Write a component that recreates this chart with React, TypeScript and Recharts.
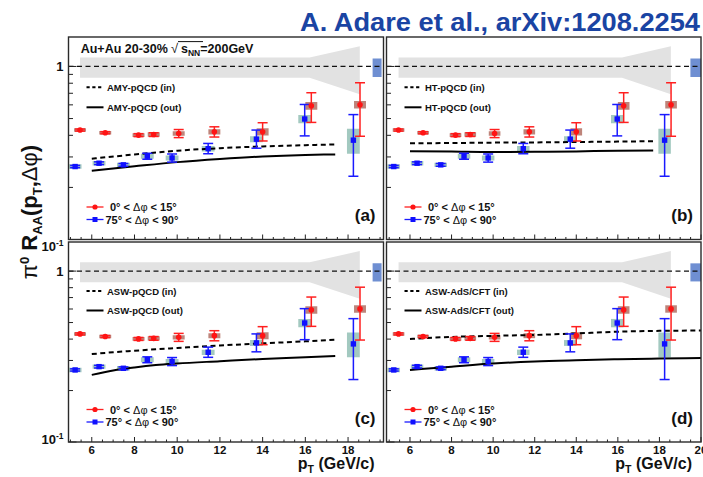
import React from "react";
import {
  Area,
  ComposedChart,
  ErrorBar,
  Line,
  ReferenceArea,
  ReferenceLine,
  Scatter,
  XAxis,
  YAxis,
} from "recharts";

const W = 703;
const H = 477;
const FONT = '"Liberation Sans", Arial, Helvetica, sans-serif';

// 0° < Δφ < 15° (red)
const redPt = [5.45, 6.63, 8.19, 8.9, 10.07, 11.74, 14.0, 16.28, 18.56];
const redRaa = [0.429, 0.414, 0.401, 0.404, 0.41, 0.419, 0.419, 0.593, 0.601];
const redErrLo = [0.006, 0.006, 0.008, 0.01, 0.022, 0.028, 0.048, 0.118, 0.206];
const redErrHi = [0.006, 0.006, 0.008, 0.01, 0.022, 0.029, 0.054, 0.112, 0.204];
const redSys = [0.01, 0.01, 0.01, 0.012, 0.012, 0.014, 0.02, 0.03, 0.03];

// 75° < Δφ < 90° (blue)
const bluePt = [5.22, 6.34, 7.48, 8.6, 9.76, 11.45, 13.71, 15.97, 18.25];
const blueRaa = [0.264, 0.276, 0.27, 0.303, 0.296, 0.335, 0.38, 0.497, 0.375];
const blueErrLo = [0.004, 0.005, 0.005, 0.012, 0.016, 0.022, 0.043, 0.1, 0.143];
const blueErrHi = [0.004, 0.005, 0.005, 0.012, 0.016, 0.024, 0.049, 0.106, 0.152];
const blueSys = [0.008, 0.008, 0.008, 0.01, 0.01, 0.012, 0.015, 0.028, 0.062];

// grey uncertainty band around unity
const bandPt = [5.45, 16.2, 18.55];
const bandLo = [0.86, 0.86, 0.69];
const bandHi = [1.125, 1.125, 1.31];

// model curves
const amyPt = [6, 8, 10, 12, 14, 16, 17.4];
const amyIn = [0.293, 0.31, 0.326, 0.337, 0.345, 0.351, 0.354];
const amyOut = [0.25, 0.265, 0.28, 0.292, 0.302, 0.308, 0.31];
const htPt = [6, 8, 10, 12, 14, 16, 17.7];
const htIn = [0.36, 0.361, 0.363, 0.364, 0.366, 0.368, 0.37];
const htOut = [0.324, 0.322, 0.32, 0.321, 0.323, 0.326, 0.327];
const aswPt = [6, 7, 8, 9, 10, 12, 14, 16, 17.4];
const aswIn = [0.327, 0.335, 0.342, 0.349, 0.355, 0.367, 0.378, 0.388, 0.397];
const aswOut = [0.247, 0.262, 0.273, 0.282, 0.288, 0.297, 0.306, 0.313, 0.319];
const adsPt = [6, 8, 10, 12, 14, 16, 18, 20];
const adsIn = [0.401, 0.412, 0.418, 0.423, 0.432, 0.442, 0.447, 0.449];
const adsOut = [0.264, 0.276, 0.288, 0.296, 0.301, 0.305, 0.308, 0.31];

const xMajor = [6, 8, 10, 12, 14, 16, 18, 20];
const xTicksLeft = [5, 5.5, 6, 6.5, 7, 7.5, 8, 8.5, 9, 9.5, 10, 10.5, 11, 11.5, 12, 12.5, 13, 13.5, 14, 14.5, 15, 15.5, 16, 16.5, 17, 17.5, 18, 18.5, 19, 19.5];
const xTicksRight = [...xTicksLeft, 20];
const yTicks = [0.1, 0.2, 0.3, 0.4, 0.5, 0.6, 0.7, 0.8, 0.9, 1];
const Y_DOMAIN = [0.1, 1.48];

const redPts = redPt.map((x, i) => ({ x, y: redRaa[i], err: [redErrLo[i], redErrHi[i]], sys: redSys[i] }));
const bluePts = bluePt.map((x, i) => ({ x, y: blueRaa[i], err: [blueErrLo[i], blueErrHi[i]], sys: blueSys[i] }));
const band = bandPt.map((x, i) => ({ x, range: [bandLo[i], bandHi[i]] }));
const curve = (pt: number[], v: number[]) => pt.map((x, i) => ({ x, y: v[i] }));

const panels = [
  { key: "a", left: 68.5, top: 37, right: 383.5, bottom: 239.5, xDomain: [4.91, 19.66], xTicks: xTicksLeft, xLabels: false, yLabels: true, tenDy: 11.5, model: "AMY-pQCD", inC: curve(amyPt, amyIn), outC: curve(amyPt, amyOut), tag: "(a)", leg: [50.3, 70.3], norm: [19.15, 19.57] },
  { key: "b", left: 386.5, top: 37, right: 701, bottom: 239.5, xDomain: [4.87, 20], xTicks: xTicksRight, xLabels: false, yLabels: false, tenDy: 0, model: "HT-pQCD", inC: curve(htPt, htIn), outC: curve(htPt, htOut), tag: "(b)", leg: [50.3, 70.3], norm: [19.49, 20] },
  { key: "c", left: 68.5, top: 242, right: 383.5, bottom: 442, xDomain: [4.91, 19.66], xTicks: xTicksLeft, xLabels: true, yLabels: true, tenDy: 1.5, model: "ASW-pQCD", inC: curve(aswPt, aswIn), outC: curve(aswPt, aswOut), tag: "(c)", leg: [49, 68.5], norm: [19.15, 19.57] },
  { key: "d", left: 386.5, top: 242, right: 701, bottom: 442, xDomain: [4.87, 20], xTicks: xTicksRight, xLabels: true, yLabels: false, tenDy: 0, model: "ASW-AdS/CFT", inC: curve(adsPt, adsIn), outC: curve(adsPt, adsOut), tag: "(d)", leg: [49, 68.5], norm: [19.49, 20] },
];

function XTick({ x, y, payload, showLabels }: any) {
  const v = payload.value;
  const major = xMajor.includes(v);
  return (
    <g>
      <line x1={x} x2={x} y1={y} y2={y - (major ? 5 : 2.5)} stroke="#222" strokeWidth={1} />
      {showLabels && major && (
        <text x={x} y={y + 12} textAnchor="middle" fontFamily={FONT} fontWeight="bold" fontSize={11.5} fill="#111">
          {v}
        </text>
      )}
    </g>
  );
}

function YTick({ x, y, payload, showLabels, tenDy }: any) {
  const v = payload.value;
  const major = v === 1 || v === 0.1;
  return (
    <g>
      <line x1={x} x2={x + (major ? 8 : 4.5)} y1={y} y2={y} stroke="#222" strokeWidth={1} />
      {showLabels && v === 1 && (
        <text x={x - 5} y={y + 4.5} textAnchor="end" fontFamily={FONT} fontWeight="bold" fontSize={13} fill="#111">
          1
        </text>
      )}
      {showLabels && v === 0.1 && (
        <text x={x - 5} y={y + tenDy} textAnchor="end" fontFamily={FONT} fontWeight="bold" fontSize={13} fill="#111">
          <tspan>10</tspan>
          <tspan dy={-5} fontSize={8.5}>-1</tspan>
        </text>
      )}
    </g>
  );
}

const redDot = (p: any) => <circle cx={p.cx} cy={p.cy} r={2.8} fill="#ff1414" />;
const blueSq = (p: any) => <rect x={p.cx - 2.7} y={p.cy - 2.7} width={5.4} height={5.4} fill="#1010ff" />;

function Panel({ cfg }: { cfg: (typeof panels)[number] }) {
  // axes get 1px of room (a 0-sized axis is not drawn at all)
  return (
    <div style={{ position: "absolute", left: 0, top: 0 }}>
      <ComposedChart
        width={W}
        height={H}
        margin={{ left: cfg.left - 1, top: cfg.top, right: W - cfg.right, bottom: H - cfg.bottom - 1 }}
      >
        <XAxis
          type="number"
          dataKey="x"
          domain={cfg.xDomain}
          allowDataOverflow
          ticks={cfg.xTicks}
          interval={0}
          height={1}
          axisLine={false}
          tickLine={false}
          tickSize={0}
          tickMargin={0}
          tick={(p: any) => <XTick {...p} showLabels={cfg.xLabels} />}
        />
        <YAxis
          type="number"
          scale="log"
          domain={Y_DOMAIN}
          allowDataOverflow
          ticks={yTicks}
          interval={0}
          width={1}
          axisLine={false}
          tickLine={false}
          tickSize={0}
          tickMargin={0}
          tick={(p: any) => <YTick {...p} showLabels={cfg.yLabels} tenDy={cfg.tenDy} />}
        />
        <Area data={band} dataKey="range" type="linear" fill="#e2e2e2" fillOpacity={1} stroke="none" isAnimationActive={false} />
        <ReferenceLine y={1} stroke="#111" strokeWidth={1.3} strokeDasharray="5 3.5" />
        <ReferenceArea x1={cfg.norm[0]} x2={cfg.norm[1]} y1={0.87} y2={1.11} fill="#6f8fd2" fillOpacity={1} stroke="none" ifOverflow="hidden" />
        {bluePts.map((d, i) => (
          <ReferenceArea key={"bs" + i} x1={d.x - 0.3} x2={d.x + 0.3} y1={d.y - d.sys} y2={d.y + d.sys} fill="#93c0b5" fillOpacity={0.85} stroke="none" ifOverflow="hidden" />
        ))}
        {redPts.map((d, i) => (
          <ReferenceArea key={"rs" + i} x1={d.x - 0.28} x2={d.x + 0.28} y1={d.y - d.sys} y2={d.y + d.sys} fill="#b36f63" fillOpacity={0.85} stroke="none" ifOverflow="hidden" />
        ))}
        <Line data={cfg.inC} dataKey="y" type="monotone" stroke="#000" strokeWidth={2} strokeDasharray="5 3.5" dot={false} isAnimationActive={false} />
        <Line data={cfg.outC} dataKey="y" type="monotone" stroke="#000" strokeWidth={2} dot={false} isAnimationActive={false} />
        <Scatter data={bluePts} dataKey="y" shape={blueSq} isAnimationActive={false}>
          <ErrorBar dataKey="err" direction="y" width={5} stroke="#1a1aff" strokeWidth={1.5} />
        </Scatter>
        <Scatter data={redPts} dataKey="y" shape={redDot} isAnimationActive={false}>
          <ErrorBar dataKey="err" direction="y" width={5} stroke="#ff2020" strokeWidth={1.5} />
        </Scatter>
      </ComposedChart>
    </div>
  );
}

function PanelDecor({ cfg }: { cfg: (typeof panels)[number] }) {
  const L = cfg.left;
  const T = cfg.top;
  const R = cfg.right;
  const B = cfg.bottom;
  const txt = { fontFamily: FONT, fontWeight: "bold" as const, fill: "#111" };
  return (
    <g>
      <rect x={L} y={T} width={R - L} height={B - T} fill="none" stroke="#2a2a2a" strokeWidth={1.4} />
      {/* model legend */}
      <line x1={L + 18} x2={L + 35} y1={T + cfg.leg[0]} y2={T + cfg.leg[0]} stroke="#000" strokeWidth={2} strokeDasharray="3.2 2.6" />
      <text x={L + 38.5} y={T + cfg.leg[0] + 3.5} fontSize={9.5} {...txt}>
        {cfg.model} (in)
      </text>
      <line x1={L + 18} x2={L + 35} y1={T + cfg.leg[1]} y2={T + cfg.leg[1]} stroke="#000" strokeWidth={2} />
      <text x={L + 38.5} y={T + cfg.leg[1] + 3.5} fontSize={9.5} {...txt}>
        {cfg.model} (out)
      </text>
      {/* data legend */}
      <line x1={L + 18} x2={L + 35} y1={B - 32.5} y2={B - 32.5} stroke="#ff2020" strokeWidth={1.3} />
      <circle cx={L + 26.5} cy={B - 32.5} r={2.6} fill="#ff1414" />
      <text x={L + 41.5} y={B - 28.5} fontSize={11} {...txt}>
        0° &lt; <tspan fontWeight="normal">Δφ</tspan> &lt; 15°
      </text>
      <line x1={L + 18} x2={L + 35} y1={B - 20} y2={B - 20} stroke="#1a1aff" strokeWidth={1.3} />
      <rect x={L + 24} y={B - 22.5} width={5} height={5} fill="#1010ff" />
      <text x={L + 37} y={B - 16} fontSize={11} {...txt}>
        75° &lt; <tspan fontWeight="normal">Δφ</tspan> &lt; 90°
      </text>
      <text x={R - 8} y={B - 18.5} textAnchor="end" fontSize={17} {...txt}>
        {cfg.tag}
      </text>
      {cfg.xLabels && (
        <text x={R - 9} y={469} textAnchor="end" fontSize={16} {...txt}>
          p<tspan dy={4} fontSize={10.5}>T</tspan>
          <tspan dy={-4}> (GeV/c)</tspan>
        </text>
      )}
    </g>
  );
}

export default function App() {
  const txt = { fontFamily: FONT, fontWeight: "bold" as const, fill: "#111" };
  return (
    <div style={{ position: "absolute", left: 0, top: 0, width: W, height: H, background: "#fff", overflow: "hidden" }}>
      {panels.map((p) => (
        <Panel key={p.key} cfg={p} />
      ))}
      <svg width={W} height={H} style={{ position: "absolute", left: 0, top: 0, pointerEvents: "none" }}>
        <text x={700} y={31} textAnchor="end" fontFamily={FONT} fontWeight="bold" fontSize={25} fill="#1a44a3" textLength={400} lengthAdjust="spacingAndGlyphs">
          A. Adare et al., arXiv:1208.2254
        </text>
        {panels.map((p) => (
          <PanelDecor key={p.key} cfg={p} />
        ))}
        {/* collision system label in panel (a) */}
        <text x={80.7} y={53.3} fontSize={12.5} {...txt}>
          Au+Au 20-30%
        </text>
        <text x={171} y={53.3} fontSize={13} fontFamily={FONT} fill="#111">
          √
        </text>
        <line x1={178} x2={203} y1={41.6} y2={41.6} stroke="#111" strokeWidth={1} />
        <text x={181} y={53.3} fontSize={12.5} {...txt}>
          s<tspan dy={3} fontSize={8.5}>NN</tspan>
          <tspan dy={-3}>=200GeV</tspan>
        </text>
        {/* y axis title */}
        <text transform="translate(37,212) rotate(-90)" textAnchor="middle" fontSize={22} {...txt}>
          <tspan fontWeight="normal">π</tspan>
          <tspan dy={-8} fontSize={13}>0</tspan>
          <tspan dy={8}> R</tspan>
          <tspan dy={5} fontSize={13}>AA</tspan>
          <tspan dy={-5}>(p</tspan>
          <tspan dy={5} fontSize={13}>T</tspan>
          <tspan dy={-5}>,</tspan>
          <tspan fontWeight="normal">Δφ</tspan>
          <tspan>)</tspan>
        </text>
      </svg>
    </div>
  );
}
